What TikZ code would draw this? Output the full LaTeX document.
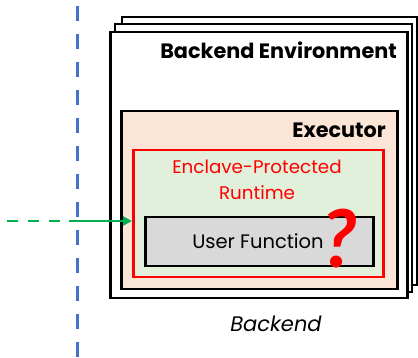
\documentclass[tikz,border=0pt]{standalone}
\usepackage{fontspec}
\setmainfont{Poppins}
\newfontfamily\markfont{Lato}
\usetikzlibrary{arrows.meta}
\definecolor{salmonfill}{HTML}{FBE5D6}
\definecolor{greenfill}{HTML}{E2EFDA}
\definecolor{grayfill}{HTML}{D9D9D9}
\definecolor{linkgreen}{HTML}{00B050}
\definecolor{splitblue}{HTML}{4472C4}
\tikzset{
  envbox/.style={draw=black, fill=white, line width=2.5pt},
  execbox/.style={draw=black, fill=salmonfill, line width=2.5pt},
  enclavebox/.style={draw=red, fill=greenfill, line width=2.5pt},
  funcbox/.style={draw=black, fill=grayfill, line width=2.5pt},
  boldlabel/.style={font=\fontsize{20.8}{24}\selectfont\bfseries, inner sep=0pt},
  plainlabel/.style={font=\fontsize{19.5}{26}\selectfont, inner sep=0pt, align=center},
  flowline/.style={draw=linkgreen, line width=2.5pt},
}
\begin{document}
\begin{tikzpicture}[x=1pt, y=-1pt]
  \useasboundingbox (0,0) rectangle (418,358);

  % trust boundary
  \coordinate (splittop) at (77,6);
  \coordinate (splitbot) at (77,358);
  \draw[splitblue, line width=3pt, dash pattern=on 15pt off 13pt] (splittop) -- (splitbot);

  % stacked backend environments
  \draw[envbox] (122,17) rectangle (417,285);
  \draw[envbox] (115,24) rectangle (412,292);
  \node[envbox, anchor=north west, minimum width=297pt, minimum height=266pt, inner sep=0pt] (env) at (109,31) {};
  \node[boldlabel, anchor=east] (envlabel) at (397,50) {Backend Environment};

  % executor
  \node[execbox, anchor=north west, minimum width=276pt, minimum height=178pt, inner sep=0pt] (exec) at (120,110) {};
  \node[boldlabel, anchor=east] (execlabel) at (386,130) {Executor};

  % enclave-protected runtime
  \node[enclavebox, anchor=north west, minimum width=250pt, minimum height=127pt, inner sep=0pt] (enclave) at (132,149) {};
  \node[plainlabel, text=red, font=\fontsize{18.3}{26}\selectfont] (enclavelabel) at (257,180) {Enclave-Protected\\Runtime};

  % user function
  \node[funcbox, anchor=north west, minimum width=228pt, minimum height=49pt, inner sep=0pt] (func) at (144,216) {};
  \node[plainlabel] (funclabel) at (258,241) {User Function};
  \node[text=red, inner sep=0pt, anchor=base,
        font=\fontsize{80}{82}\markfont\bfseries\itshape] (unknown) at (340,268) {?};

  % incoming request
  \coordinate (reqstart) at (7,221);
  \coordinate (reqmid) at (60,221);
  \coordinate (reqsolid) at (69,221);
  \draw[flowline, dash pattern=on 11pt off 10pt] (reqstart) -- (reqmid);
  \draw[flowline, -{Triangle[length=9pt, width=9pt]}] (reqsolid) -- (enclave.west |- reqsolid);

  \node[font=\fontsize{21}{26}\selectfont\itshape, inner sep=0pt] (backendlabel) at (276,324) {Backend};
\end{tikzpicture}
\end{document}
